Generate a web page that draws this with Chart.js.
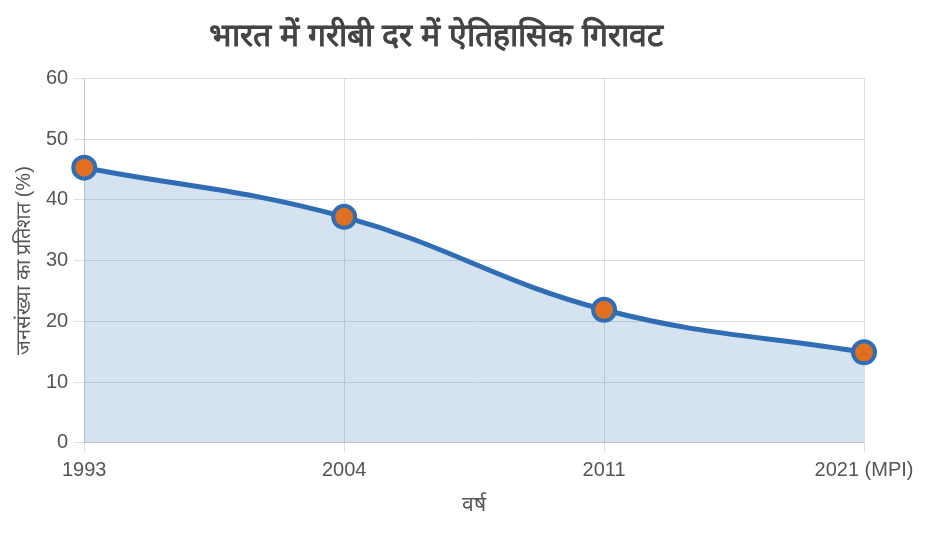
<!DOCTYPE html>
<html><head><meta charset="utf-8">
<script src="https://cdn.jsdelivr.net/npm/chart.js@4"></script>
<style>body{margin:0;background:#fff}#w{width:926px;height:536px}</style>
</head><body><div id="w"><canvas id="c"></canvas></div>
<script>
const categories=["1993","2004","2011","2021 (MPI)"];
const values=[45.3,37.2,21.9,14.9];
new Chart(document.getElementById('c'),{type:'line',
data:{labels:categories,datasets:[{data:values,borderColor:'#2f6db5',borderWidth:5,backgroundColor:'rgba(47,109,181,0.2)',fill:true,tension:0.4,pointRadius:11,pointHoverRadius:11,pointBackgroundColor:'#e07020',pointBorderColor:'#2f6db5',pointBorderWidth:4}]},
options:{responsive:true,maintainAspectRatio:false,animation:false,
layout:{padding:{left:8,right:62,top:8,bottom:14}},
plugins:{legend:{display:false},title:{display:true,text:'भारत में गरीबी दर में ऐतिहासिक गिरावट',color:'#444',font:{size:32,weight:'bold'},padding:{top:10,bottom:22}}},
scales:{x:{offset:false,title:{display:true,text:'वर्ष',color:'#555',font:{size:21}},ticks:{color:'#555',font:{size:20},padding:6},grid:{color:'#ddd',tickLength:10}},
y:{min:0,max:60,ticks:{stepSize:10,color:'#555',font:{size:20},padding:6},title:{display:true,text:'जनसंख्या का प्रतिशत (%)',color:'#555',font:{size:20}},grid:{color:'#ddd',tickLength:10}}}}});
</script></body></html>
